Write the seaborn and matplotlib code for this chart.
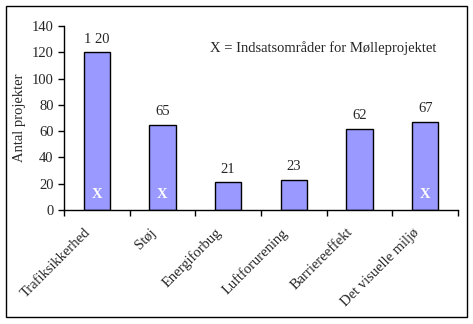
import matplotlib
matplotlib.use("Agg")
import matplotlib.pyplot as plt
import seaborn as sns
import pandas as pd
from matplotlib.patches import Rectangle

categories = ["Trafiksikkerhed", "Støj", "Energiforbug", "Luftforurening", "Barriereeffekt", "Det visuelle miljø"]
values = [120, 65, 21, 23, 62, 67]
value_labels = ["1 20", "65", "21", "23", "62", "67"]
marked = [True, True, False, False, False, True]
y_ticks = [0, 20, 40, 60, 80, 100, 120, 140]

sns.set_theme(style="white")
plt.rcParams['font.family'] = ['Liberation Serif', 'DejaVu Serif']

df = pd.DataFrame({"cat": categories, "val": values})

fig = plt.figure(figsize=(4.73, 3.24), dpi=100)
ax = fig.add_axes([64/473, 1-210/324, (458-64)/473, (210-26)/324])
sns.barplot(data=df, x="cat", y="val", ax=ax, color="#9999FF", edgecolor="black",
            linewidth=1, width=0.4, saturation=1)
for i, p in enumerate(ax.patches):
    p.set_facecolor("#9999FF")
ax.set_xlim(-0.5, len(categories)-0.5)
ax.set_ylim(0, 140)
ax.set_yticks(y_ticks)
ax.set_yticklabels([str(t) for t in y_ticks], fontsize=10.5)
ax.set_xticks([i - 0.5 for i in range(len(categories)+1)], minor=False)
ax.set_xticklabels([])
ax.tick_params(axis="both", direction="out", length=4, width=1, color="black", bottom=True, left=True)
for s in ["top", "right"]:
    ax.spines[s].set_visible(False)
for s in ["left", "bottom"]:
    ax.spines[s].set_color("black")
    ax.spines[s].set_linewidth(1)
ax.set_xlabel("")
ax.set_ylabel("Antal projekter", fontsize=10.5, labelpad=4)

for i, (v, lab) in enumerate(zip(values, value_labels)):
    ax.text(i, v + 5, lab, ha="center", va="bottom", fontsize=10.5)
    if marked[i]:
        ax.text(i, 12, "X", ha="center", va="center", fontsize=10.5, color="white", fontweight="bold")
    ax.text(i - 0.2, -12, categories[i], rotation=45, ha="right", va="top",
            rotation_mode="anchor", fontsize=10.5)

ax.text((210-64)/394, 0.88, "X = Indsatsområder for Mølleprojektet", transform=ax.transAxes,
        ha="left", va="center", fontsize=10.5)

fig.patches.append(Rectangle((6/473, 7/324), 461/473, 311/324, transform=fig.transFigure,
                             fill=False, edgecolor="black", linewidth=1))
fig.savefig("out.png", dpi=100)
